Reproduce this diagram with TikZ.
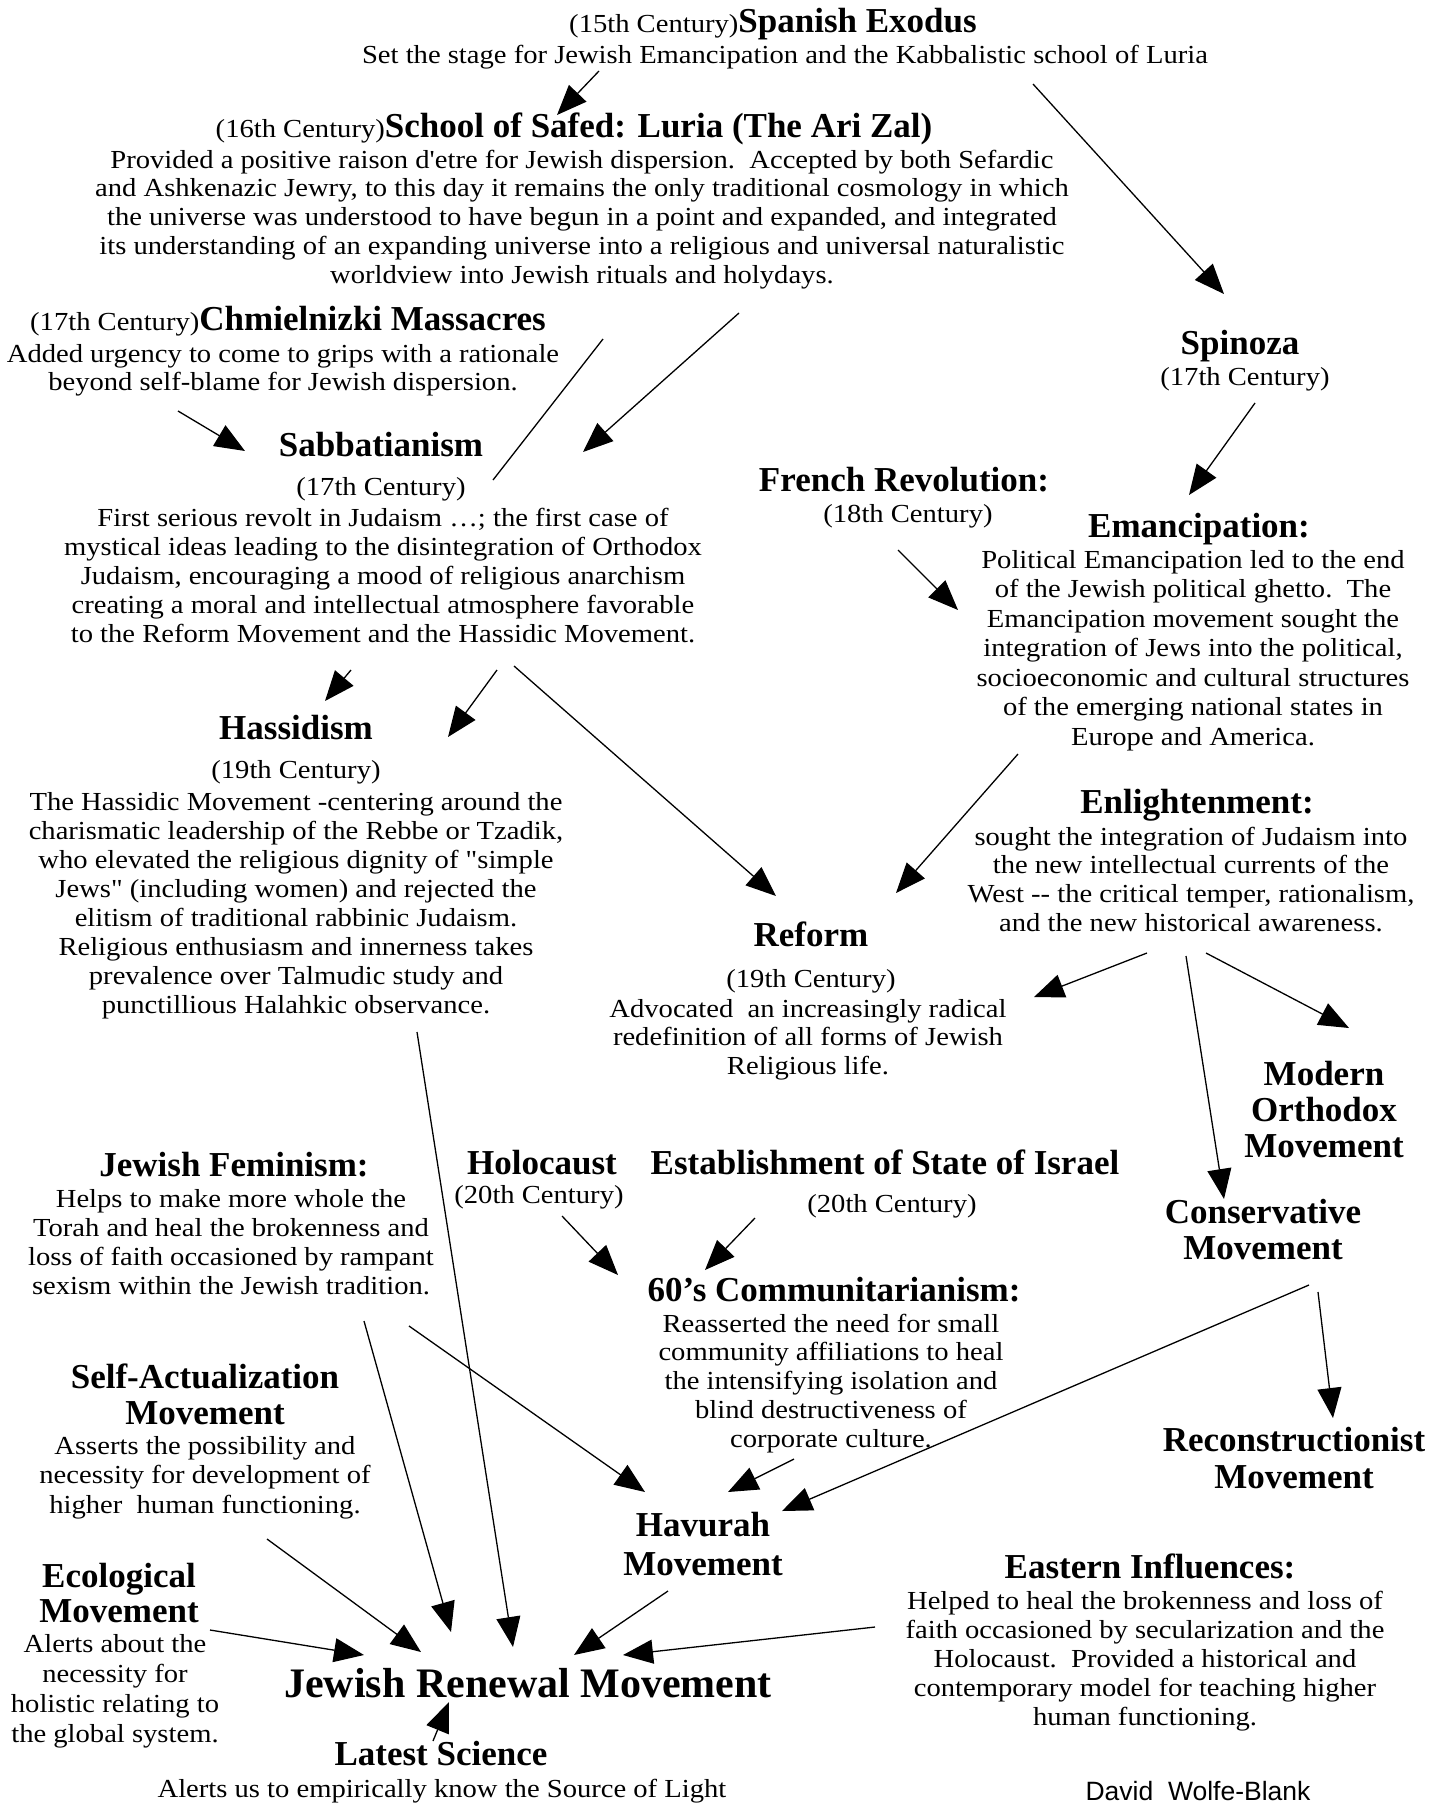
\documentclass[tikz,border=0pt]{standalone}
\usepackage{fontspec}
\setmainfont{Liberation Serif}
\newfontfamily\bodyf{Liberation Serif}[FakeStretch=1.1]
\newfontfamily\sansf{Liberation Sans}
\usetikzlibrary{arrows.meta}
\newcommand\hd{\fontsize{35}{36}\selectfont\rmfamily\bfseries}
\begin{document}
\begin{tikzpicture}[x=1pt,y=-1pt,
  txt/.style={align=center, inner sep=0pt, anchor=base, font=\bodyf\fontsize{26}{28.8}\selectfont},
  head/.style={align=center, inner sep=0pt, anchor=base, font=\hd},
  arr/.style={line width=1.3pt, -{Triangle[length=30pt,width=24pt]}},
  plain/.style={line width=1.3pt}]
\useasboundingbox (0,0) rectangle (1437,1805);

% ---- texts (anchor = baseline of last line) ----
\node[txt] (spanish) at (773,32) {(15th Century){\hd Spanish Exodus}};
\node[txt] (spanishsub) at (785,63) {Set the stage for Jewish Emancipation and the Kabbalistic school of Luria};

\node[txt] (safed) at (574,137) {(16th Century){\hd School of Safed: Luria (The Ari Zal)}};
\node[txt] (safedbody) at (582,283.2) {Provided a positive raison d'etre for Jewish dispersion.\ \ Accepted by both Sefardic\\and Ashkenazic Jewry, to this day it remains the only traditional cosmology in which\\the universe was understood to have begun in a point and expanded, and integrated\\its understanding of an expanding universe into a religious and universal naturalistic\\worldview into Jewish rituals and holydays.};

\node[txt] (chmiel) at (288,330) {(17th Century){\hd Chmielnizki Massacres}};
\node[txt] (chmielbody) at (283,390.8) {Added urgency to come to grips with a rationale\\beyond self-blame for Jewish dispersion.};

\node[head] (spinoza) at (1240,354) {Spinoza};
\node[txt] (spinozac) at (1245,385) {(17th Century)};

\node[head] (sabbat) at (381,456) {Sabbatianism};
\node[txt] (sabbatc) at (381,495) {(17th Century)};
\node[txt, font=\bodyf\fontsize{26}{29}\selectfont] (sabbatbody) at (383,642) {First serious revolt in Judaism \dots; the first case of\\mystical ideas leading to the disintegration of Orthodox\\Judaism, encouraging a mood of religious anarchism\\creating a moral and intellectual atmosphere favorable\\to the Reform Movement and the Hassidic Movement.};

\node[head] (french) at (904,491) {French Revolution:};
\node[txt] (frenchc) at (908,522) {(18th Century)};

\node[head] (emanc) at (1199,537) {Emancipation:};
\node[txt, font=\bodyf\fontsize{26}{29.5}\selectfont] (emancbody) at (1193,745) {Political Emancipation led to the end\\of the Jewish political ghetto.\ \ The\\Emancipation movement sought the\\integration of Jews into the political,\\socioeconomic and cultural structures\\of the emerging national states in\\Europe and America.};

\node[head] (hassid) at (296,739) {Hassidism};
\node[txt] (hassidc) at (296,778) {(19th Century)};
\node[txt, font=\bodyf\fontsize{26}{29}\selectfont] (hassidbody) at (296,1013) {The Hassidic Movement -centering around the\\charismatic leadership of the Rebbe or Tzadik,\\who elevated the religious dignity of "simple\\Jews" (including women) and rejected the\\elitism of traditional rabbinic Judaism.\\Religious enthusiasm and innerness takes\\prevalence over Talmudic study and\\punctillious Halahkic observance.};

\node[head] (enlight) at (1197,813) {Enlightenment:};
\node[txt] (enlightbody) at (1191,931.4) {sought the integration of Judaism into\\the new intellectual currents of the\\West -- the critical temper, rationalism,\\and the new historical awareness.};

\node[head] (reform) at (811,946) {Reform};
\node[txt] (reformc) at (811,987) {(19th Century)};
\node[txt] (reformbody) at (808,1074.6) {Advocated\ \ an increasingly radical\\redefinition of all forms of Jewish\\Religious life.};

\node[head] (modern) at (1324,1157) {Modern\\Orthodox\\Movement};

\node[head] (feminism) at (234,1176) {Jewish Feminism:};
\node[txt, font=\bodyf\fontsize{26}{29.2}\selectfont] (feminismbody) at (231,1294.6) {Helps to make more whole the\\Torah and heal the brokenness and\\loss of faith occasioned by rampant\\sexism within the Jewish tradition.};

\node[head] (holocaust) at (542,1174) {Holocaust};
\node[txt] (holocaustc) at (539,1203) {(20th Century)};

\node[head] (israel) at (885,1174) {Establishment of State of Israel};
\node[txt] (israelc) at (892,1212) {(20th Century)};

\node[head] (conserv) at (1263,1259) {Conservative\\Movement};

\node[head] (communit) at (834,1301) {60's Communitarianism:};
\node[txt] (communitbody) at (831,1447.2) {Reasserted the need for small\\community affiliations to heal\\the intensifying isolation and\\blind destructiveness of\\corporate culture.};

\node[head] (selfact) at (205,1424) {Self-Actualization\\Movement};
\node[txt, font=\bodyf\fontsize{26}{29.5}\selectfont] (selfactbody) at (205,1513) {Asserts the possibility and\\necessity for development of\\higher\ \ human functioning.};

\node[head, font=\fontsize{35}{37}\selectfont\bfseries] (reconstr) at (1294,1488) {Reconstructionist\\Movement};

\node[head, font=\fontsize{35}{39}\selectfont\bfseries] (havurah) at (703,1575) {Havurah\\Movement};

\node[head] (eastern) at (1150,1578) {Eastern Influences:};
\node[txt, font=\bodyf\fontsize{26}{29}\selectfont] (easternbody) at (1145,1725) {Helped to heal the brokenness and loss of\\faith occasioned by secularization and the\\Holocaust.\ \ Provided a historical and\\contemporary model for teaching higher\\human functioning.};

\node[head, font=\fontsize{35}{35}\selectfont\bfseries] (ecolog) at (119,1622) {Ecological\\Movement};
\node[txt, font=\bodyf\fontsize{26}{30}\selectfont] (ecologbody) at (115,1742) {Alerts about the\\necessity for\\holistic relating to\\the global system.};

\node[head, font=\fontsize{42}{44}\selectfont\bfseries] (renewal) at (528,1697) {Jewish Renewal Movement};

\node[head] (latest) at (441,1765) {Latest Science};
\node[txt] (latestbody) at (442,1797) {Alerts us to empirically know the Source of Light};

\node[txt, font=\sansf\fontsize{26.5}{28}\selectfont] (david) at (1198,1800) {David\ \ Wolfe-Blank};

% ---- connector end points ----
\coordinate (a1) at (599,71);   \coordinate (a2) at (557,115);
\coordinate (b1) at (1033,84);  \coordinate (b2) at (1224,294);
\coordinate (c1) at (178,411);  \coordinate (c2) at (245,451);
\coordinate (d1) at (739,313);  \coordinate (d2) at (583,452);
\coordinate (e1) at (603,339);  \coordinate (e2) at (493,480);
\coordinate (f1) at (1255,403); \coordinate (f2) at (1189,495);
\coordinate (g1) at (898,550);  \coordinate (g2) at (958,610);
\coordinate (h1) at (351,670);  \coordinate (h2) at (325,701);
\coordinate (i1) at (497,670);  \coordinate (i2) at (448,737);
\coordinate (j1) at (514,666);  \coordinate (j2) at (776,896);
\coordinate (k1) at (1018,754); \coordinate (k2) at (896,893);
\coordinate (l1) at (1147,953); \coordinate (l2) at (1034,997);
\coordinate (m1) at (1206,953); \coordinate (m2) at (1349,1028);
\coordinate (n1) at (1186,956); \coordinate (n2) at (1224,1199);
\coordinate (o1) at (1318,1292);\coordinate (o2) at (1333,1418);
\coordinate (p1) at (1309,1285);\coordinate (p2) at (782,1511);
\coordinate (q1) at (562,1216); \coordinate (q2) at (618,1275);
\coordinate (r1) at (755,1218); \coordinate (r2) at (705,1270);
\coordinate (s1) at (794,1459); \coordinate (s2) at (728,1492);
\coordinate (t1) at (409,1326); \coordinate (t2) at (645,1492);
\coordinate (u1) at (417,1032); \coordinate (u2) at (513,1647);
\coordinate (v1) at (364,1321); \coordinate (v2) at (451,1632);
\coordinate (w1) at (267,1539); \coordinate (w2) at (421,1652);
\coordinate (x1) at (210,1630); \coordinate (x2) at (364,1655);
\coordinate (y1) at (668,1591); \coordinate (y2) at (574,1655);
\coordinate (z1) at (875,1627); \coordinate (z2) at (623,1655);
\coordinate (aa1) at (433,1741);\coordinate (aa2) at (449,1702);

% ---- connectors ----
\draw[arr] (a1) -- (a2);
\draw[arr] (b1) -- (b2);
\draw[arr] (c1) -- (c2);
\draw[arr] (d1) -- (d2);
\draw[plain] (e1) -- (e2);
\draw[arr] (f1) -- (f2);
\draw[arr] (g1) -- (g2);
\draw[arr] (h1) -- (h2);
\draw[arr] (i1) -- (i2);
\draw[arr] (j1) -- (j2);
\draw[arr] (k1) -- (k2);
\draw[arr] (l1) -- (l2);
\draw[arr] (m1) -- (m2);
\draw[arr] (n1) -- (n2);
\draw[arr] (o1) -- (o2);
\draw[arr] (p1) -- (p2);
\draw[arr] (q1) -- (q2);
\draw[arr] (r1) -- (r2);
\draw[arr] (s1) -- (s2);
\draw[arr] (t1) -- (t2);
\draw[arr] (u1) -- (u2);
\draw[arr] (v1) -- (v2);
\draw[arr] (w1) -- (w2);
\draw[arr] (x1) -- (x2);
\draw[arr] (y1) -- (y2);
\draw[arr] (z1) -- (z2);
\draw[arr] (aa1) -- (aa2);
\end{tikzpicture}
\end{document}
